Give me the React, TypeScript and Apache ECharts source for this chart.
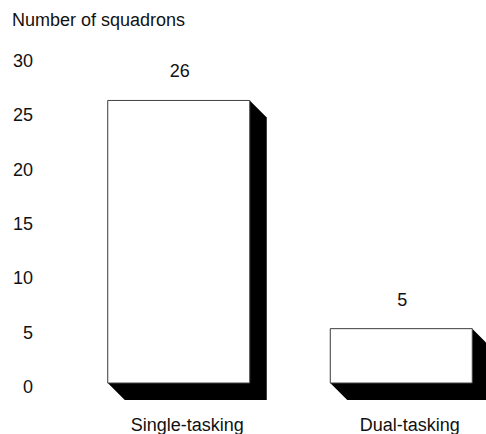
import React, { useEffect, useRef } from "react";
import * as echarts from "echarts";

const categories = ["Single-tasking", "Dual-tasking"];
const squadrons = [26, 5];
const yTicks = [0, 5, 10, 15, 20, 25, 30];
const yTitle = "Number of squadrons";

export default function App() {
  const ref = useRef<HTMLDivElement>(null);
  useEffect(() => {
    if (!ref.current) return;
    const chart = echarts.init(ref.current, null, { renderer: "svg" });
    const FONT = "'Liberation Sans', Arial, Helvetica, sans-serif";
    const depth = 17;
    const barW = 142;
    chart.setOption({
      animation: false,
      backgroundColor: "#ffffff",
      textStyle: { fontFamily: FONT },
      graphic: [
        {
          type: "text",
          left: 12,
          top: 11,
          style: { text: yTitle, fontSize: 18, fontFamily: FONT, fill: "#111" },
        },
      ],
      grid: {
        left: 76,
        width: 445,
        top: 57,
        bottom: 51,
        containLabel: false,
        outerBoundsMode: "none",
      },
      xAxis: {
        type: "category",
        data: categories,
        axisLine: { show: false },
        axisTick: { show: false },
        axisLabel: { margin: 33, fontSize: 18, color: "#111", fontFamily: FONT },
      },
      yAxis: {
        type: "value",
        min: yTicks[0],
        max: yTicks[yTicks.length - 1],
        interval: 5,
        axisLine: { show: false },
        axisTick: { show: false },
        splitLine: { show: false },
        axisLabel: {
          margin: 43,
          fontSize: 18,
          color: "#111",
          fontFamily: FONT,
          verticalAlign: "top",
          lineHeight: 8,
        },
      },
      series: [
        {
          type: "custom",
          data: squadrons.map((v, i) => [i, v]),
          clip: false,
          renderItem: (params: any, api: any) => {
            const top = api.coord([api.value(0), api.value(1)]);
            const base = api.coord([api.value(0), 0]);
            const cx = top[0] - 8.5;
            const L = cx - barW / 2;
            const R = cx + barW / 2;
            const T = top[1];
            const B = base[1];
            return {
              type: "group",
              children: [
                {
                  type: "polygon",
                  shape: {
                    points: [
                      [L, T],
                      [R, T],
                      [R + depth, T + depth],
                      [R + depth, B + depth],
                      [L + depth, B + depth],
                      [L, B],
                    ],
                  },
                  style: { fill: "#000" },
                },
                {
                  type: "rect",
                  shape: { x: L, y: T, width: barW, height: B - T },
                  style: { fill: "#fff", stroke: "#444", lineWidth: 1 },
                },
                {
                  type: "text",
                  style: {
                    text: String(api.value(1)),
                    x: cx + 1,
                    y: T - 29,
                    align: "center",
                    verticalAlign: "middle",
                    fontSize: 18,
                    fontFamily: FONT,
                    fill: "#111",
                  },
                },
              ],
            };
          },
        },
      ],
    });
    return () => chart.dispose();
  }, []);
  return (
    <div
      ref={ref}
      style={{ width: 486, height: 434, position: "absolute", left: 0, top: 0 }}
    />
  );
}
